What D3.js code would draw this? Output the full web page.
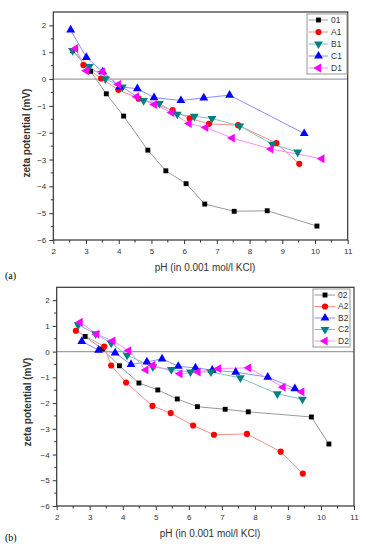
<!DOCTYPE html>
<html>
<head>
<meta charset="utf-8">
<script src="https://cdn.jsdelivr.net/npm/d3@7"></script>
<style>
  body { margin: 0; background: #fff; }
  svg { display: block; font-family: "Liberation Sans", Arial, sans-serif; }
</style>
</head>
<body>
<div id="chart"></div>
<script>
// panel (a)
var ph01 = [2.59, 3.14, 3.62, 4.15, 4.89, 5.44, 6.06, 6.63, 7.53, 8.54, 10.06];
var zp01 = [1.06, 0.29, -0.55, -1.38, -2.65, -3.42, -3.9, -4.66, -4.93, -4.91, -5.48];
var phA1 = [2.92, 3.46, 3.99, 4.61, 5.65, 6.17, 6.76, 7.65, 8.82, 9.52];
var zpA1 = [0.52, 0.02, -0.4, -0.73, -1.16, -1.47, -1.67, -1.72, -2.39, -3.16];
var phB1 = [2.59, 3.1, 3.59, 4.11, 4.76, 5.24, 5.79, 6.31, 6.85, 7.7, 8.7, 9.47];
var zpB1 = [1.06, 0.47, 0.01, -0.3, -0.8, -0.91, -1.31, -1.39, -1.47, -1.75, -2.43, -2.72];
var phC1 = [2.53, 3.01, 3.51, 4.03, 4.57, 5.08, 5.9, 6.6, 7.39, 9.67];
var zpC1 = [1.83, 0.81, 0.27, -0.29, -0.36, -0.69, -0.8, -0.7, -0.6, -2.03];
var phD1 = [2.68, 3.01, 3.5, 3.99, 4.55, 5.09, 5.62, 6.15, 6.66, 7.47, 8.65, 10.21];
var zpD1 = [1.14, 0.31, 0.27, -0.2, -0.66, -0.95, -1.25, -1.66, -1.81, -2.2, -2.61, -2.97];

// panel (b)
var ph02 = [2.86, 3.38, 3.9, 4.49, 5.06, 5.65, 6.26, 7.1, 7.8, 9.71, 10.24];
var zp02 = [0.59, 0.1, -0.55, -1.22, -1.49, -1.84, -2.14, -2.24, -2.34, -2.54, -3.59];
var phA2 = [2.58, 3.44, 3.65, 4.1, 4.9, 5.45, 6.13, 6.76, 7.76, 8.78, 9.45];
var zpA2 = [0.81, 0.2, -0.54, -1.2, -2.11, -2.39, -2.87, -3.23, -3.2, -3.89, -4.74];
var phB2 = [2.76, 3.27, 3.77, 4.25, 4.73, 5.19, 5.68, 6.2, 6.71, 7.42, 8.39, 9.21];
var zpB2 = [0.4, 0.06, -0.05, -0.5, -0.4, -0.28, -0.57, -0.63, -0.72, -0.8, -0.99, -1.44];
var phC2 = [2.65, 3.18, 3.65, 4.13, 4.91, 5.47, 6.05, 6.67, 7.56, 8.68, 9.44];
var zpC2 = [1.04, 0.69, 0.33, -0.14, -0.59, -0.7, -0.79, -0.79, -1.02, -1.64, -1.85];
var phD2 = [2.71, 3.21, 3.7, 4.18, 4.7, 4.91, 5.73, 6.28, 6.9, 7.81, 8.85, 9.42];
var zpD2 = [1.14, 0.68, 0.42, 0.04, -0.71, -0.53, -0.86, -0.79, -0.66, -0.63, -1.38, -1.56];

var xTicks = [2, 3, 4, 5, 6, 7, 8, 9, 10, 11];
var yTicks = [2, 1, 0, -1, -2, -3, -4, -5, -6];

// marker styles: marker colour, line colour, symbol, rotation
var styles = [
  {fill: "#000000", line: "#9a9a9a", sym: d3.symbolSquare, size: 24, rot: 0},
  {fill: "#ff0000", line: "#ff8c8c", sym: d3.symbolCircle, size: 30, rot: 0},
  {fill: "#008080", line: "#7cc4c4", sym: d3.symbolTriangle, size: 34, rot: 180},
  {fill: "#0000ff", line: "#8c8cff", sym: d3.symbolTriangle, size: 34, rot: 0},
  {fill: "#ff00ff", line: "#ff8cff", sym: d3.symbolTriangle, size: 34, rot: -90}
];
var stylesB = [styles[0], styles[1], styles[3], styles[2], styles[4]];

function zip(xs, ys) { return xs.map(function(v, i) { return {x: v, y: ys[i]}; }); }

var svg = d3.select("#chart").append("svg")
  .attr("width", 366).attr("height", 550);

function panel(cfg) {
  var x = d3.scaleLinear().domain([2, 11]).range([cfg.left, cfg.right]);
  var y = d3.scaleLinear().domain([-6, 2.5]).range([cfg.bottom, cfg.top]);
  var g = svg.append("g");

  // zero line
  g.append("line")
    .attr("x1", x(2)).attr("x2", x(11))
    .attr("y1", y(0)).attr("y2", y(0))
    .attr("stroke", "#a0a0a0").attr("stroke-width", 1.2);

  // minor ticks
  var xMinor = d3.range(2.5, 11, 1);
  var yMinor = d3.range(-5.5, 2.5, 1);
  g.selectAll(".xm").data(xMinor).enter().append("line")
    .attr("x1", d => x(d)).attr("x2", d => x(d))
    .attr("y1", cfg.bottom).attr("y2", cfg.bottom + 2.5)
    .attr("stroke", "#333");
  g.selectAll(".ym").data(yMinor).enter().append("line")
    .attr("y1", d => y(d)).attr("y2", d => y(d))
    .attr("x1", cfg.left).attr("x2", cfg.left - 2.5)
    .attr("stroke", "#333");

  // axes
  var xAxis = g.append("g")
    .attr("transform", "translate(0," + cfg.bottom + ")")
    .call(d3.axisBottom(x).tickValues(xTicks).tickSize(4).tickSizeOuter(0));
  var yAxis = g.append("g")
    .attr("transform", "translate(" + cfg.left + ",0)")
    .call(d3.axisLeft(y).tickValues(yTicks).tickSize(4).tickSizeOuter(0));
  [xAxis, yAxis].forEach(function(a) {
    a.select(".domain").remove();
    a.selectAll("line").attr("stroke", "#333");
    a.selectAll("text").attr("fill", "#333").style("font-size", "8px")
      .style("font-family", "Liberation Sans, Arial, sans-serif");
  });
  xAxis.selectAll("text").attr("dy", "0.9em");

  // frame
  g.append("rect")
    .attr("x", cfg.left).attr("y", cfg.top)
    .attr("width", cfg.right - cfg.left).attr("height", cfg.bottom - cfg.top)
    .attr("fill", "none").attr("stroke", "#333").attr("stroke-width", 1.2);

  var line = d3.line().x(d => x(d.x)).y(d => y(d.y));

  cfg.series.forEach(function(s, i) {
    var st = cfg.styles[i];
    var pts = zip(s.ph, s.zp);
    g.append("path").datum(pts)
      .attr("d", line).attr("fill", "none")
      .attr("stroke", st.line).attr("stroke-width", 1);
  });
  cfg.series.forEach(function(s, i) {
    var st = cfg.styles[i];
    var pts = zip(s.ph, s.zp);
    g.selectAll(".m" + i).data(pts).enter().append("path")
      .attr("d", d3.symbol().type(st.sym).size(st.size))
      .attr("transform", d => "translate(" + x(d.x) + "," + y(d.y) + ") rotate(" + st.rot + ")")
      .attr("fill", st.fill);
  });

  // legend
  var lg = g.append("g");
  lg.append("rect")
    .attr("x", cfg.leg.x).attr("y", cfg.leg.y)
    .attr("width", cfg.leg.w).attr("height", cfg.leg.h)
    .attr("fill", "#fff").attr("stroke", "#999");
  cfg.series.forEach(function(s, i) {
    var st = cfg.styles[i];
    var yy = cfg.leg.y + 6 + i * cfg.leg.step;
    lg.append("line")
      .attr("x1", cfg.leg.x + 1.5).attr("x2", cfg.leg.x + cfg.leg.lw)
      .attr("y1", yy).attr("y2", yy)
      .attr("stroke", st.line);
    lg.append("path")
      .attr("d", d3.symbol().type(st.sym).size(st.size))
      .attr("transform", "translate(" + (cfg.leg.x + cfg.leg.lw / 2 + 1) + "," + yy + ") rotate(" + st.rot + ")")
      .attr("fill", st.fill);
    lg.append("text")
      .attr("x", cfg.leg.x + cfg.leg.lw + 3).attr("y", yy)
      .attr("dy", "0.35em")
      .style("font-size", "8.5px").attr("fill", "#333")
      .text(s.name);
  });

  // axis titles
  g.append("text")
    .attr("transform", "translate(" + cfg.ylabX + "," + cfg.ylabY + ") rotate(-90)")
    .attr("text-anchor", "middle")
    .style("font-size", "10px").style("font-weight", "bold").attr("fill", "#333")
    .text("zeta potential (mV)");
  g.append("text")
    .attr("x", cfg.xlabX).attr("y", cfg.xlabY)
    .attr("text-anchor", "middle")
    .style("font-size", "10px").attr("fill", "#333")
    .text("pH (in 0.001 mol/l KCl)");

  g.append("text")
    .attr("x", 5).attr("y", cfg.tagY)
    .style("font-family", "Liberation Serif, Times New Roman, serif")
    .style("font-size", "10px").attr("fill", "#000")
    .text(cfg.tag);
}

panel({
  left: 53.3, right: 347.7, top: 12, bottom: 240,
  styles: styles,
  series: [
    {name: "01", ph: ph01, zp: zp01},
    {name: "A1", ph: phA1, zp: zpA1},
    {name: "B1", ph: phB1, zp: zpB1},
    {name: "C1", ph: phC1, zp: zpC1},
    {name: "D1", ph: phD1, zp: zpD1}
  ],
  leg: {x: 307, y: 14, w: 40, h: 60, step: 12, lw: 21},
  ylabX: 30, ylabY: 133, xlabX: 205, xlabY: 271,
  tag: "(a)", tagY: 279
});

panel({
  left: 56.7, right: 354, top: 287.3, bottom: 506,
  styles: stylesB,
  series: [
    {name: "02", ph: ph02, zp: zp02},
    {name: "A2", ph: phA2, zp: zpA2},
    {name: "B2", ph: phB2, zp: zpB2},
    {name: "C2", ph: phC2, zp: zpC2},
    {name: "D2", ph: phD2, zp: zpD2}
  ],
  leg: {x: 313, y: 289, w: 37, h: 58, step: 11.5, lw: 22},
  ylabX: 31, ylabY: 402, xlabX: 210, xlabY: 537,
  tag: "(b)", tagY: 541
});
</script>
</body>
</html>
